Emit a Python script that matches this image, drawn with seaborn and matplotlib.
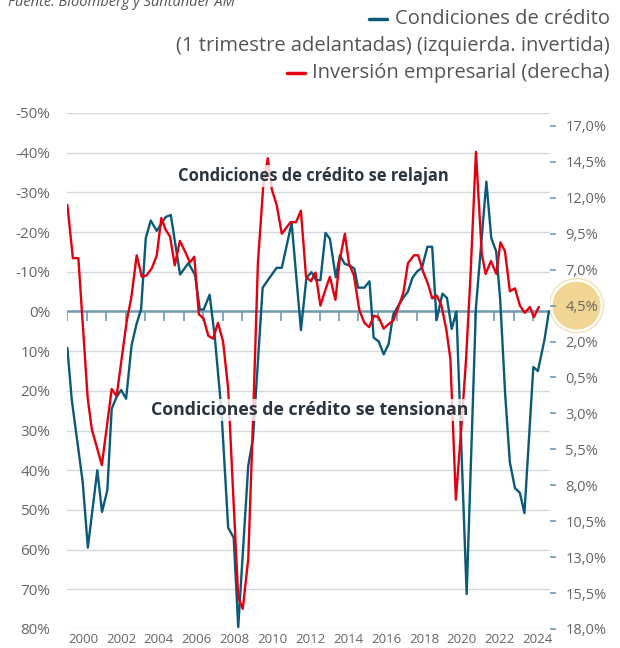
import matplotlib
matplotlib.use('Agg')
import matplotlib.pyplot as plt
import seaborn as sns
import numpy as np
from matplotlib.patches import Circle
from matplotlib.lines import Line2D
from matplotlib.transforms import IdentityTransform

# Condiciones de crédito (1 trimestre adelantadas), eje izquierdo invertido, %
credit_years = [1999.17, 1999.40, 1999.98, 2000.25, 2000.75, 2001.00, 2001.28, 2001.51, 2001.78, 2002.01,
                2002.27, 2002.56, 2002.83, 2003.06, 2003.31, 2003.57, 2003.89, 2004.36, 2004.63, 2005.12,
                2005.56, 2005.91, 2006.16, 2006.37, 2006.68, 2006.95, 2007.30, 2007.66, 2007.95, 2008.19,
                2008.72, 2008.97, 2009.48, 2009.83, 2010.22, 2010.49, 2011.01, 2011.50, 2011.79, 2012.06,
                2012.30, 2012.53, 2012.80, 2013.03, 2013.34, 2013.56, 2013.81, 2014.10, 2014.32, 2014.52,
                2014.85, 2015.12, 2015.34, 2015.60, 2015.87, 2016.13, 2016.37, 2016.65, 2016.91, 2017.15,
                2017.39, 2017.64, 2017.89, 2018.18, 2018.43, 2018.66, 2018.97, 2019.21, 2019.46, 2019.71,
                2020.25, 2020.74, 2021.29, 2021.55, 2021.81, 2022.02, 2022.28, 2022.53, 2022.80, 2023.06,
                2023.30, 2023.77, 2024.01, 2024.36, 2024.59]
credit_vals = [9.2, 22.2, 43.0, 59.5, 40.0, 50.5, 45.0, 24.5, 21.4, 19.8,
               22.0, 8.5, 3.0, -0.5, -18.5, -22.9, -20.3, -23.8, -24.3, -9.3,
               -12.2, -9.2, -0.5, -0.5, -4.2, 6.3, 24.8, 54.5, 57.0, 79.5,
               38.8, 32.0, -6.0, -8.4, -11.0, -11.0, -22.3, 4.7, -8.5, -9.9,
               -7.9, -7.9, -19.8, -18.3, -8.6, -14.2, -12.0, -11.5, -10.8, -6.0,
               -6.0, -7.6, 6.6, 7.5, 10.8, 8.2, 0.8, -1.5, -3.5, -5.0,
               -8.5, -10.1, -11.0, -16.3, -16.3, 2.2, -4.5, -3.4, 4.4, 0.0,
               71.2, -1.0, -32.7, -18.5, -15.1, -3.0, 20.6, 38.0, 44.5, 45.7,
               50.8, 14.0, 15.0, 7.1, 0.0]

# Inversión empresarial, eje derecho, %
invest_years = [1999.17, 1999.46, 1999.75, 2000.24, 2000.46, 2000.99, 2001.51, 2001.77, 2002.30, 2002.55,
                2002.83, 2003.10, 2003.35, 2003.63, 2003.89, 2004.13, 2004.35, 2004.59, 2004.84, 2005.11,
                2005.37, 2005.64, 2005.87, 2006.11, 2006.36, 2006.61, 2006.86, 2007.12, 2007.39, 2007.66,
                2007.92, 2008.19, 2008.43, 2008.72, 2008.97, 2009.23, 2009.51, 2009.75, 2009.96, 2010.22,
                2010.49, 2010.95, 2011.24, 2011.50, 2011.77, 2012.03, 2012.27, 2012.53, 2012.79, 2013.03,
                2013.32, 2013.54, 2013.82, 2014.04, 2014.30, 2014.58, 2014.85, 2015.10, 2015.36, 2015.60,
                2015.87, 2016.12, 2016.37, 2016.62, 2016.91, 2017.15, 2017.47, 2017.69, 2017.94, 2018.21,
                2018.43, 2018.67, 2018.92, 2019.18, 2019.39, 2019.68, 2019.95, 2020.21, 2020.45, 2020.74,
                2021.05, 2021.25, 2021.53, 2021.82, 2022.03, 2022.27, 2022.53, 2022.80, 2023.06, 2023.32,
                2023.59, 2023.80, 2024.06]
invest_vals = [11.5, 7.8, 7.8, -1.9, -4.1, -6.6, -1.3, -1.8, 3.4, 5.1,
               8.0, 6.5, 6.6, 7.1, 8.0, 10.6, 9.8, 9.3, 7.3, 9.0,
               8.3, 7.5, 7.9, 3.9, 3.6, 2.4, 2.2, 3.3, 2.0, -1.3,
               -8.5, -15.8, -16.6, -13.1, -3.5, 7.5, 12.8, 14.75, 12.6, 11.5,
               9.5, 10.3, 10.3, 11.1, 6.5, 6.2, 6.8, 4.5, 5.6, 6.5,
               4.9, 7.6, 9.5, 7.4, 6.6, 4.2, 3.3, 3.0, 3.8, 3.7,
               2.9, 3.2, 3.45, 4.3, 5.4, 7.45, 8.0, 8.0, 6.9, 6.0,
               5.0, 5.2, 4.5, 2.8, 0.8, -9.0, -4.3, 0.6, 6.5, 15.2,
               8.1, 6.7, 7.6, 6.7, 8.9, 8.3, 5.5, 5.7, 4.5, 4.0,
               4.4, 3.7, 4.4]

left_ticks = list(range(-50, 81, 10))
right_ticks = [17.0, 14.5, 12.0, 9.5, 7.0, 4.5, 2.0, -0.5, -3.0, -5.5, -8.0, -10.5, -13.0, -15.5, -18.0]
year_ticks = list(range(2000, 2025, 2))
last_invest = 4.5

BLUE = '#0a5a78'
RED = '#e3000f'
ZERO = '#6f9bb1'
GREY = '#666666'
DARK = '#2a3540'

sns.set_theme(style='white')
plt.rcParams['font.family'] = ['Open Sans', 'DejaVu Sans']

fig = plt.figure(figsize=(6.2, 6.48), dpi=100)
ax = fig.add_axes([67 / 620, 19 / 648, 483 / 620, 516 / 648])

sns.lineplot(x=credit_years, y=credit_vals, ax=ax, color=BLUE, lw=1.7, estimator=None, sort=False, zorder=3)
ax.set_ylim(80, -50)
ax.set_xlim(1999.15, 2024.65)
ax.set_yticks(left_ticks)
ax.set_yticklabels([f'{v}%' for v in left_ticks])
ax.set_xticks(year_ticks)
ax.set_xticklabels([str(y) for y in year_ticks])
ax.grid(axis='y', color='#d4d7dc', lw=1)
ax.grid(axis='x', visible=False)
ax.set_axisbelow(True)
ax.tick_params(axis='y', length=0, pad=12, labelsize=11, labelcolor=GREY)
ax.tick_params(axis='x', length=0, pad=3, labelsize=9.5, labelcolor=GREY)
ax.set_xlabel('')
ax.set_ylabel('')

# linea del cero con marcas
ax.axhline(0, color=ZERO, lw=1.8, zorder=1.5)
ax.vlines(np.linspace(1999.17, 2023.75, 25), 0, 2.4, color=ZERO, lw=1.2, zorder=1.5)

ax2 = ax.twinx()
sns.lineplot(x=invest_years, y=invest_vals, ax=ax2, color=RED, lw=1.7, estimator=None, sort=False)
ax2.set_ylim(-18, 17.9)
ax2.set_yticks(right_ticks)
ax2.set_yticklabels([f'{abs(v):.1f}%'.replace('.', ',') for v in right_ticks])
ax2.tick_params(axis='y', length=4, width=1.2, color=ZERO, pad=7, labelsize=10.5, labelcolor=GREY)
ax2.grid(False)
ax2.set_ylabel('')

for a in (ax, ax2):
    for s in a.spines.values():
        s.set_visible(False)

box = dict(boxstyle='square,pad=0.1', fc='white', ec='none', alpha=0.8)
fig.text(313 / 620, 1 - 176 / 648, 'Condiciones de crédito se relajan', ha='center', va='center',
         fontsize=11.9, fontweight='bold', color=DARK, bbox=box)
fig.text(310 / 620, 1 - 410 / 648, 'Condiciones de crédito se tensionan', ha='center', va='center',
         fontsize=12.8, fontweight='bold', color=DARK, bbox=box)

fig.text(8 / 620, 1 - 3 / 648, 'Fuente: Bloomberg y Santander AM', style='italic', ha='left', va='center',
         fontsize=10.5, color='#555555')

t1 = fig.text(610 / 620, 1 - 19 / 648, 'Condiciones de crédito', ha='right', va='center', fontsize=14.5,
              color='#555555')
fig.text(610 / 620, 1 - 46 / 648, '(1 trimestre adelantadas) (izquierda. invertida)', ha='right', va='center',
         fontsize=14.5, color='#555555')
t3 = fig.text(610 / 620, 1 - 73 / 648, 'Inversión empresarial (derecha)', ha='right', va='center', fontsize=14.5,
              color='#555555')

fig.canvas.draw()
renderer = fig.canvas.get_renderer()
for t, c in ((t1, BLUE), (t3, RED)):
    bb = t.get_window_extent(renderer)
    yc = (bb.y0 + bb.y1) / 2
    fig.add_artist(Line2D([bb.x0 - 26, bb.x0 - 8], [yc, yc], transform=IdentityTransform(), color=c, lw=2.5))

# circulo del ultimo dato
cy = ax2.transData.transform((2000, last_invest))[1]
fig.add_artist(Circle((576.5, cy), 24, transform=IdentityTransform(), fc='#f0d593', ec='none', zorder=-1))
fig.add_artist(Circle((576.5, cy), 27, transform=IdentityTransform(), fill=False, ec='#f3e2b2', lw=1, zorder=-1))

fig.savefig('out.png', dpi=100)
